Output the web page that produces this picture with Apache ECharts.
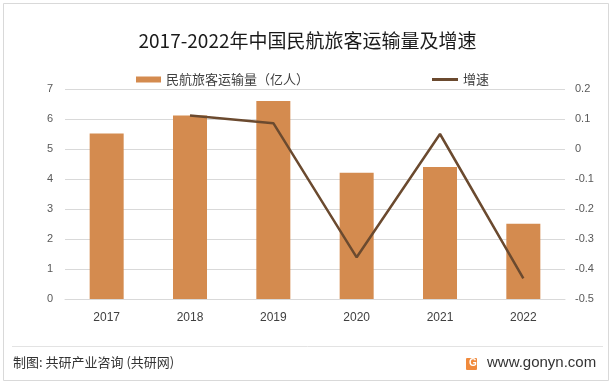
<!DOCTYPE html>
<html><head><meta charset="utf-8">
<script src="https://cdn.jsdelivr.net/npm/echarts@6/dist/echarts.min.js"></script>
<style>html,body{margin:0;padding:0;background:#fff}#c{width:615px;height:384px}</style>
</head><body><div id="c"></div>
<script>
const categories = ['2017','2018','2019','2020','2021','2022'];
const passengers = [5.52, 6.12, 6.60, 4.21, 4.40, 2.51];
const growth = [null, 0.112, 0.086, -0.361, 0.050, -0.431];
const leftTicks = {min:0, max:7, interval:1};
const rightTicks = {min:-0.5, max:0.2, interval:0.1};

const chart = echarts.init(document.getElementById('c'), null, {renderer:'canvas'});
const CJK = '"Noto Sans CJK SC", "Noto Sans", sans-serif';
const NUM = '"Liberation Sans", "Noto Sans", sans-serif';
chart.setOption({
  animation:false,
  backgroundColor:'#fff',
  title:{text:'2017-2022年中国民航旅客运输量及增速', left:'center', top:26,
    textStyle:{fontFamily:CJK, fontSize:19, fontWeight:'normal', color:'#1a1a1a'}},
  legend:[
    {left:131, top:68, itemWidth:25, itemHeight:6, icon:'rect',
      textStyle:{fontFamily:CJK, fontSize:13, color:'#404040'},
      data:['民航旅客运输量（亿人）']},
    {left:427, top:68, itemWidth:26, itemHeight:3, icon:'rect',
      textStyle:{fontFamily:CJK, fontSize:13, color:'#404040'},
      data:['增速']}
  ],
  grid:{left:65, right:50, top:89, bottom:85},
  xAxis:{type:'category', data:categories,
    axisLine:{lineStyle:{color:'#d9d9d9'}}, axisTick:{show:false},
    axisLabel:{color:'#404040', fontSize:12, fontFamily:NUM, margin:13}},
  yAxis:[
    {type:'value', min:leftTicks.min, max:leftTicks.max, interval:leftTicks.interval,
      axisLine:{show:false}, axisTick:{show:false},
      splitLine:{lineStyle:{color:'#d9d9d9'}},
      axisLabel:{color:'#595959', fontSize:11, fontFamily:NUM, margin:12}},
    {type:'value', min:rightTicks.min, max:rightTicks.max, interval:rightTicks.interval,
      axisLine:{show:false}, axisTick:{show:false}, splitLine:{show:false},
      axisLabel:{color:'#595959', fontSize:11, fontFamily:NUM, margin:10,
        formatter:v=>String(parseFloat(v.toFixed(1)))}}
  ],
  series:[
    {name:'民航旅客运输量（亿人）', type:'bar', data:passengers, barWidth:34,
      itemStyle:{color:'#D48B4F'}},
    {name:'增速', type:'line', yAxisIndex:1, data:growth, symbol:'none',
      lineStyle:{color:'#6B4A2F', width:2.5}, itemStyle:{color:'#6B4A2F'}}
  ],
  graphic:[
    {type:'rect', shape:{x:3.5, y:3.5, width:605, height:377}, style:{fill:null, stroke:'#d9d9d9', lineWidth:1}, silent:true},
    {type:'line', shape:{x1:12, y1:346.5, x2:603, y2:346.5}, style:{stroke:'#e3e3e3', lineWidth:1}},
    {type:'text', left:13, top:356, style:{text:'制图: 共研产业咨询 (共研网)', font:'13px "Noto Sans CJK SC"', fill:'#333'}},
    {type:'rect', shape:{x:466, y:358, width:11, height:12, r:1}, style:{fill:'#F08A3C'}},
    {type:'text', left:469, top:358, style:{text:'G', font:'bold 10px "Liberation Sans"', fill:'#fff'}},
    {type:'text', left:487, top:355, style:{text:'www.gonyn.com', font:'15px "Liberation Sans"', fill:'#333'}}
  ]
});
</script></body></html>
